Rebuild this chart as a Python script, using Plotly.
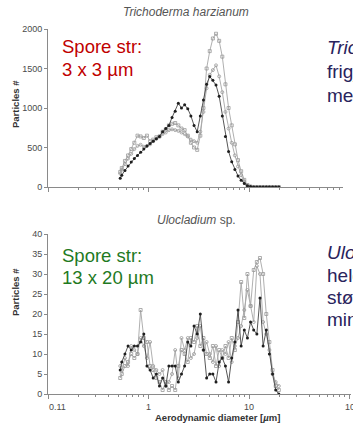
import numpy as np
import plotly.graph_objects as go

# Aerodynamic particle sizer channel midpoints (µm)
diam = [0.523, 0.542, 0.583, 0.626, 0.673, 0.723, 0.777, 0.835, 0.898, 0.965,
        1.037, 1.114, 1.197, 1.286, 1.382, 1.486, 1.596, 1.715, 1.843, 1.981,
        2.129, 2.288, 2.458, 2.642, 2.839, 3.051, 3.278, 3.523, 3.786, 4.068,
        4.371, 4.698, 5.048, 5.425, 5.829, 6.264, 6.732, 7.234, 7.774, 8.354,
        8.977, 9.647, 10.37, 11.14, 11.97, 12.86, 13.82, 14.86, 15.96, 17.15,
        18.43, 19.81]

# Trichoderma harzianum – particle counts per channel, three runs
tri_run1 = [110, 150, 210, 265, 315, 360, 400, 440, 480, 520, 550, 580, 610, 640,
            700, 740, 780, 880, 960, 1060, 1000, 1040, 990, 900, 780, 700, 900,
            1100, 1300, 1400, 1350, 1290, 1150, 900, 640, 450, 320, 220, 140, 85,
            45, 15, 5, 0, 0, 0, 0, 0, 0, 0, 0, 0]
tri_run2 = [190, 240, 330, 400, 480, 560, 650, 640, 620, 650, 580, 600, 630, 640,
            700, 730, 780, 800, 810, 780, 740, 720, 650, 560, 500, 470, 650, 1000,
            1500, 1720, 1880, 1940, 1850, 1650, 1300, 1000, 780, 540, 340, 200,
            90, 25, 5, 0, 0, 0, 0, 0, 0, 0, 0, 0]
tri_run3 = [170, 220, 290, 360, 420, 480, 520, 535, 510, 520, 540, 580, 610, 640,
            670, 690, 720, 730, 720, 710, 690, 670, 640, 600, 580, 560, 700, 950,
            1250, 1420, 1480, 1540, 1400, 1200, 950, 740, 560, 400, 260, 150, 70,
            20, 5, 0, 0, 0, 0, 0, 0, 0, 0, 0]

# Ulocladium sp. – particle counts per channel, three runs
ulo_run1 = [6, 8, 10, 12, 11, 12, 12, 13, 15, 7, 6, 4, 5, 2, 4, 2, 7, 7, 7, 3,
            5, 7, 13, 12, 17, 15, 20, 11, 4, 5, 5, 3, 8, 9, 7, 3, 9, 13, 21, 12,
            16, 14, 18, 16, 15, 24, 12, 16, 10, 5, 1, 0]
ulo_run2 = [4, 5, 7, 8, 10, 9, 10, 21, 14, 13, 7, 6, 4, 3, 1, 3, 1, 2, 1, 7,
            11, 10, 8, 14, 13, 17, 12, 14, 10, 9, 12, 7, 11, 9, 12, 9, 14, 11, 18,
            28, 19, 30, 22, 31, 33, 34, 30, 20, 13, 6, 2, 1]
ulo_run3 = [7, 6, 9, 7, 12, 11, 10, 14, 12, 9, 13, 7, 6, 5, 6, 2, 3, 5, 11, 4,
            14, 11, 14, 9, 10, 14, 17, 11, 13, 10, 8, 12, 7, 11, 10, 13, 8, 12, 14,
            17, 21, 26, 22, 18, 32, 30, 18, 15, 11, 5, 3, 2]

x_tickvals = [0.1, 1, 10, 100]
x_ticktext = ["", "1", "10", ""]
edge_labels = ["0.11", "100"]
minor_vals = [m * d for d in (0.1, 1, 10) for m in range(2, 10)]

W, H = 353, 428
ML, MR, MT, MB = 48, 2, 29, 34
PW, PH = W - ML - MR, H - MT - MB
DECADE = 100.5  # pixels per decade on both log axes


def px_x(px):
    return (px - ML) / PW


def px_y(py):
    return (H - MB - py) / PH


AXIS = "#8a8a8a"
DARK = "#1e1e1e"
GREY = "#a6a6a6"
LABEL = "#4a4a4a"
FONT = "Liberation Sans, Arial, sans-serif"

fig = go.Figure()

series = [
    ("x", "y", tri_run2, "grey", "square-open"),
    ("x", "y", tri_run3, "grey", "circle-open"),
    ("x", "y", tri_run1, "dark", "circle"),
    ("x2", "y2", ulo_run2, "grey", "square-open"),
    ("x2", "y2", ulo_run3, "grey", "circle-open"),
    ("x2", "y2", ulo_run1, "dark", "circle"),
]
for xa, ya, vals, tone, sym in series:
    if tone == "dark":
        line = dict(color="#444444", width=0.9)
        marker = dict(color=DARK, size=3, symbol=sym)
    else:
        line = dict(color=GREY, width=0.9)
        marker = dict(color="#999999", size=3, symbol=sym,
                      line=dict(color="#999999", width=0.8))
    fig.add_trace(go.Scatter(x=diam, y=vals, xaxis=xa, yaxis=ya,
                             mode="lines+markers", line=line, marker=marker,
                             showlegend=False, hoverinfo="skip"))

common_x = dict(type="log", showgrid=False, zeroline=False, showline=True,
                linecolor=AXIS, linewidth=1, ticks="outside", ticklen=4,
                tickcolor=AXIS, tickvals=x_tickvals,
                minor=dict(ticks="outside", ticklen=2, tickcolor=AXIS,
                           tickmode="array", tickvals=minor_vals),
                tickfont=dict(family=FONT, size=9, color=LABEL))
common_y = dict(showgrid=False, zeroline=False, showline=True,
                linecolor=AXIS, linewidth=1, ticks="outside", ticklen=3,
                tickcolor=AXIS, tickfont=dict(family=FONT, size=9, color=LABEL))

fig.update_layout(
    width=W, height=H,
    margin=dict(l=ML, r=MR, t=MT, b=MB),
    paper_bgcolor="white", plot_bgcolor="white",
    xaxis=dict(common_x, domain=[0, px_x(343)], range=[-1, -1 + (343 - ML) / DECADE],
               anchor="y", showticklabels=False),
    yaxis=dict(common_y, domain=[px_y(187), 1], range=[0, 2000],
               tickvals=[0, 500, 1000, 1500, 2000], anchor="x"),
    xaxis2=dict(common_x, domain=[0, 1], range=[-1, -1 + PW / DECADE], anchor="y2",
                ticktext=x_ticktext),
    yaxis2=dict(common_y, domain=[0, px_y(234)], range=[0, 40],
                tickvals=list(range(0, 41, 5)), anchor="x2"),
)

ann = []


def text(px, py, s, size, color, xanchor="left", yanchor="middle", **kw):
    ann.append(dict(x=px_x(px), y=px_y(py), xref="paper", yref="paper",
                    text=s, showarrow=False, xanchor=xanchor, yanchor=yanchor,
                    font=dict(family=FONT, size=size, color=color), **kw))


# panel titles
text(186, 12, "<i>Trichoderma harzianum</i>", 12, "#555555", xanchor="center")
text(196, 220, "<i>Ulocladium</i> sp.", 12, "#555555", xanchor="center")

# y-axis titles
text(15, 104, "<b>Particles #</b>", 9.5, "#333333", xanchor="center", textangle=-90)
text(15, 292, "<b>Particles #</b>", 9.5, "#333333", xanchor="center", textangle=-90)

# x-axis title and the decade labels at both ends of the axis
text(217, 417, "<b>Aerodynamic diameter [<i>µ</i>m]</b>", 9.5, "#333333", xanchor="center")
text(47, 407, edge_labels[0], 9, LABEL)
text(343, 407, edge_labels[1], 9, LABEL)

# spore size notes
RED = "#c00000"
GREEN = "#1f7a1f"
text(60, 46.5, "Spore str:", 18.5, RED)
text(60, 69, "3 x 3 µm", 18.5, RED)
text(60, 255.5, "Spore str:", 18.5, GREEN)
text(60, 277.5, "13 x 20 µm", 18.5, GREEN)

# side commentary
NAVY = "#29235c"
text(325, 47, "<i>Trichoderma</i>: sporene", 19, NAVY)
text(325, 71, "frigjøres enkeltvis,", 19, NAVY)
text(325, 95, "mest hele sporer", 19, NAVY)
text(325, 253, "<i>Ulocladium</i>: både", 19, NAVY)
text(325, 275, "hele sporer og", 19, NAVY)
text(325, 297, "støv/fragmenter", 19, NAVY)
text(325, 319, "mindre enn sporen", 19, NAVY)

fig.update_layout(annotations=ann)
fig.write_html("out.html")
